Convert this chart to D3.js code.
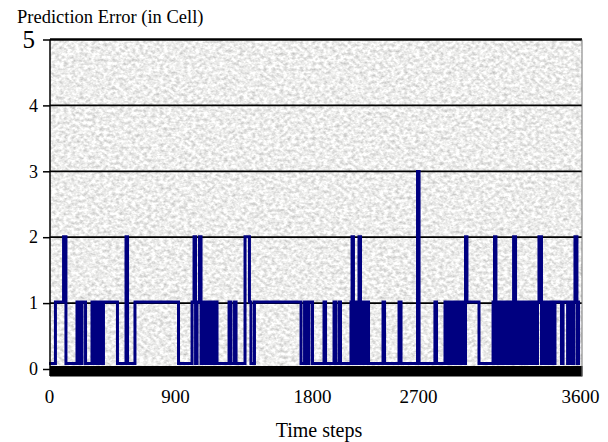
<!DOCTYPE html>
<html>
<head>
<meta charset="utf-8">
<script src="https://cdn.jsdelivr.net/npm/d3@7"></script>
<style>
  body { margin: 0; background: #fff; }
  text { font-family: "Liberation Serif", "Times New Roman", serif; fill: #000; }
</style>
</head>
<body>
<svg id="chart" width="608" height="442"></svg>
<script>
// axis ticks
const xTicks = [0, 900, 1800, 2700, 3600];
const yTicks = [0, 1, 2, 3, 4, 5];

// prediction error: time step where the value changes, and the new value (cells)
const timeSteps = [
    0, 46, 104, 121, 200, 221, 236, 261, 307, 321, 336, 350, 364, 379, 389, 489, 550, 561, 614,
    923, 1012, 1025, 1035, 1045, 1061, 1071, 1084, 1097, 1110, 1123, 1136, 1150, 1163, 1176,
    1255, 1268, 1291, 1301, 1360, 1389, 1399, 1422, 1728, 1751, 1767, 1780,
    1804, 1902, 1915, 1987, 2000, 2029, 2042, 2131, 2140, 2152, 2169, 2186, 2199, 2212, 2229,
    2246, 2263, 2280, 2403, 2416, 2539, 2556, 2696,
    2706, 2794, 2803, 2850, 2861, 2872, 2883, 2894, 2906, 2917, 2928, 2939, 2950, 2964, 2972,
    3039, 3117, 3125, 3133, 3144, 3156, 3167, 3178, 3189, 3200, 3211, 3222, 3231, 3242, 3253,
    3264, 3275, 3286, 3297, 3308, 3319, 3331, 3342, 3353, 3364, 3372, 3386, 3397, 3408, 3419,
    3431, 3442, 3453, 3461, 3497, 3506, 3531, 3542, 3553, 3564, 3572, 3583, 3592
];
const errorCells = [
    0, 1, 2, 0, 1, 0, 1, 0, 1, 0, 1, 0, 1, 0, 1, 0, 2, 0, 1,
    0, 1, 2, 0, 1, 2, 0, 1, 0, 1, 0, 1, 0, 1, 0,
    1, 0, 1, 0, 2, 1, 0, 1, 0, 1, 0, 1,
    0, 1, 0, 1, 0, 1, 0, 1, 2, 0, 1, 0, 2, 0, 1,
    0, 1, 0, 1, 0, 1, 0, 3,
    0, 1, 0, 1, 0, 1, 0, 1, 0, 1, 0, 1, 0, 2, 1,
    0, 1, 2, 0, 1, 0, 1, 0, 1, 0, 1, 0, 2, 0, 1,
    0, 1, 0, 1, 0, 1, 0, 1, 0, 1, 2, 0, 1, 0, 1,
    0, 1, 0, 1, 0, 1, 0, 1, 0, 1, 2, 0, 1
];

const svg = d3.select("#chart");

// plot area
const plotLeft = 50, plotRight = 582, plotTop = 39.5, zeroY = 369;

// the time axis of the original is not evenly spaced
const xStops = [0, 0.2373, 0.4953, 0.6949, 1];
const x = d3.scaleLinear()
    .domain(xTicks)
    .range(xStops.map(f => 49 + f * (580 - 49)));

const y = d3.scaleLinear().domain([0, 5]).range([zeroY, plotTop]);
// the line sits a little above the thick zero band
const lineY = d3.scaleLinear().domain([0, 1, 5]).range([363.5, 302, 41]);

// granite-like background
const defs = svg.append("defs");
const filter = defs.append("filter")
    .attr("id", "granite")
    .attr("x", 0).attr("y", 0).attr("width", 1).attr("height", 1)
    .attr("color-interpolation-filters", "sRGB");
filter.append("feTurbulence")
    .attr("type", "fractalNoise")
    .attr("baseFrequency", "0.25 0.32")
    .attr("numOctaves", 3)
    .attr("seed", 7);
filter.append("feColorMatrix")
    .attr("type", "matrix")
    .attr("values", "0.42 0 0 0 0.72  0.42 0 0 0 0.72  0.42 0 0 0 0.715  0 0 0 0 1");

svg.append("rect")
    .attr("x", plotLeft)
    .attr("y", plotTop)
    .attr("width", plotRight - plotLeft)
    .attr("height", zeroY - plotTop)
    .attr("filter", "url(#granite)");

// grid lines
svg.append("g")
    .selectAll("line")
    .data(yTicks.filter(d => d > 0))
    .join("line")
    .attr("x1", plotLeft)
    .attr("x2", plotRight)
    .attr("y1", d => y(d))
    .attr("y2", d => y(d))
    .attr("stroke", "#000")
    .attr("stroke-width", d => d === 5 ? 2.4 : 1.8);

// the error series as a step line
const points = timeSteps.map((t, i) => ({t: t, v: errorCells[i]}));
points.push({t: 3600, v: errorCells[errorCells.length - 1]});

const line = d3.line()
    .x(d => x(d.t))
    .y(d => lineY(d.v))
    .curve(d3.curveStepAfter);

svg.append("path")
    .datum(points)
    .attr("d", line)
    .attr("fill", "none")
    .attr("stroke", "#000080")
    .attr("stroke-width", 3);

// thick black zero band
svg.append("rect")
    .attr("x", plotLeft)
    .attr("y", zeroY - 3)
    .attr("width", plotRight - plotLeft + 0.5)
    .attr("height", 10.5)
    .attr("fill", "#000");

// frame
svg.append("line")
    .attr("x1", plotRight).attr("x2", plotRight)
    .attr("y1", plotTop).attr("y2", zeroY + 7)
    .attr("stroke", "#777")
    .attr("stroke-width", 1);
svg.append("line")
    .attr("x1", plotLeft).attr("x2", plotLeft)
    .attr("y1", plotTop).attr("y2", zeroY + 7)
    .attr("stroke", "#000")
    .attr("stroke-width", 1.5);

// y axis
const yAxis = svg.append("g")
    .attr("transform", `translate(${plotLeft}, 0)`)
    .call(d3.axisLeft(y).tickValues(yTicks).tickSize(7).tickPadding(5).tickFormat(d3.format("d")));
yAxis.select(".domain").remove();
yAxis.selectAll("line").attr("stroke", "#000").attr("stroke-width", 1.5);
yAxis.selectAll("text")
    .attr("fill", "#000")
    .style("font-family", '"Liberation Serif", serif')
    .style("font-size", d => d === 5 ? "25px" : "18px")
    .attr("dx", d => d === 5 ? -3 : 0);

// x axis
const xAxis = svg.append("g")
    .attr("transform", `translate(0, ${zeroY + 7})`)
    .call(d3.axisBottom(x).tickValues(xTicks).tickSize(0).tickPadding(14).tickFormat(d3.format("d")));
xAxis.select(".domain").remove();
xAxis.selectAll("text")
    .attr("fill", "#000")
    .style("font-family", '"Liberation Serif", serif')
    .style("font-size", "19px");

// titles
svg.append("text")
    .attr("x", 17)
    .attr("y", 22.5)
    .style("font-size", "18.5px")
    .text("Prediction Error (in Cell)");

svg.append("text")
    .attr("x", 319)
    .attr("y", 437)
    .attr("text-anchor", "middle")
    .style("font-size", "20px")
    .text("Time steps");
</script>
</body>
</html>
